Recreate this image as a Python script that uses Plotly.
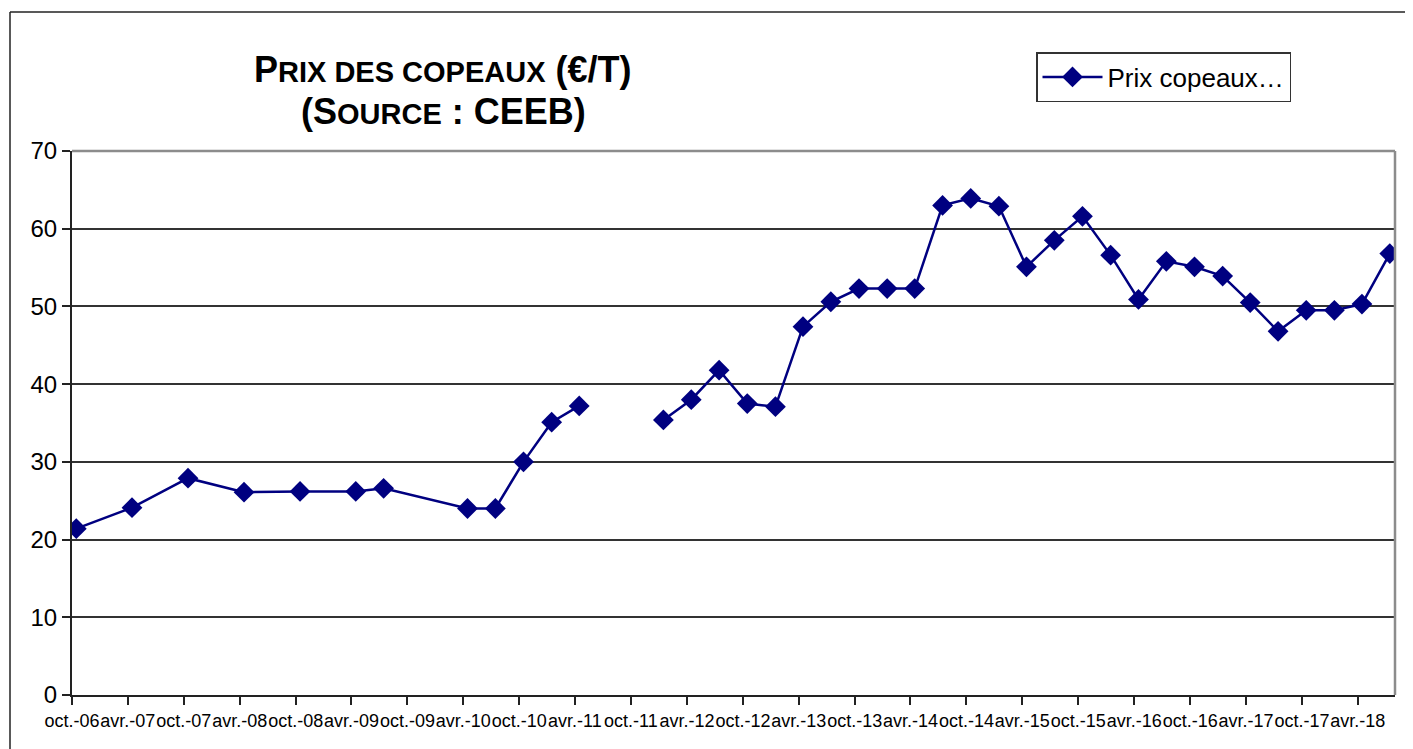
import plotly.graph_objects as go

# Data
dates = [
    "2006-10-15", "2007-04-15", "2007-10-15", "2008-04-15", "2008-10-15",
    "2009-04-15", "2009-07-15", "2010-04-15", "2010-07-15", "2010-10-15",
    "2011-01-15", "2011-04-15", "2011-07-15", "2011-10-15",
    "2012-01-15", "2012-04-15", "2012-07-15", "2012-10-15",
    "2013-01-15", "2013-04-15", "2013-07-15", "2013-10-15",
    "2014-01-15", "2014-04-15", "2014-07-15", "2014-10-15",
    "2015-01-15", "2015-04-15", "2015-07-15", "2015-10-15",
    "2016-01-15", "2016-04-15", "2016-07-15", "2016-10-15",
    "2017-01-15", "2017-04-15", "2017-07-15", "2017-10-15",
    "2018-01-15", "2018-04-15", "2018-07-15",
]
prix = [
    21.4, 24.1, 27.9, 26.1, 26.2,
    26.2, 26.6, 24.0, 24.0, 30.0,
    35.1, 37.2, None, None,
    35.4, 38.0, 41.8, 37.5,
    37.1, 47.4, 50.6, 52.3,
    52.3, 52.3, 63.0, 63.9,
    62.9, 55.1, 58.5, 61.6,
    56.6, 50.9, 55.8, 55.1,
    53.9, 50.5, 46.8, 49.5,
    49.5, 50.3, 56.8,
]

tick_dates = [
    "2006-10-01", "2007-04-01", "2007-10-01", "2008-04-01", "2008-10-01",
    "2009-04-01", "2009-10-01", "2010-04-01", "2010-10-01", "2011-04-01",
    "2011-10-01", "2012-04-01", "2012-10-01", "2013-04-01", "2013-10-01",
    "2014-04-01", "2014-10-01", "2015-04-01", "2015-10-01", "2016-04-01",
    "2016-10-01", "2017-04-01", "2017-10-01", "2018-04-01",
]
tick_labels = [
    "oct.-06", "avr.-07", "oct.-07", "avr.-08", "oct.-08",
    "avr.-09", "oct.-09", "avr.-10", "oct.-10", "avr.-11",
    "oct.-11", "avr.-12", "oct.-12", "avr.-13", "oct.-13",
    "avr.-14", "oct.-14", "avr.-15", "oct.-15", "avr.-16",
    "oct.-16", "avr.-17", "oct.-17", "avr.-18",
]

NAVY = "#000080"
FONT = "Liberation Sans, Arial, sans-serif"

fig = go.Figure()
fig.add_trace(go.Scatter(
    x=dates, y=prix, mode="lines+markers", name="Prix copeaux…",
    connectgaps=False,
    line=dict(color=NAVY, width=2.5),
    marker=dict(symbol="diamond", size=16, color=NAVY),
))

# page has an 8px body offset; work in screen pixels and convert
OFF = 8
SW, SH = 1413, 749
W, H = SW - OFF, SH - OFF
# screen-pixel plot area
L_s, R_s, T_s, B_s = 72, 1395, 151, 695
ml, mr, mt, mb = L_s - OFF, SW - R_s, T_s - OFF, SH - B_s
pw, ph = R_s - L_s, B_s - T_s

def px_x(p):
    return (p - L_s) / pw

def px_y(p):
    return (B_s - p) / ph

fig.update_layout(
    width=W, height=H,
    margin=dict(l=ml, r=mr, t=mt, b=mb),
    paper_bgcolor="white", plot_bgcolor="white",
    font=dict(family=FONT, color="black"),
    showlegend=True,
    legend=dict(
        x=px_x(1036), y=px_y(52), xanchor="left", yanchor="top",
        bordercolor="#333333", borderwidth=1.5, bgcolor="white",
        font=dict(size=26, family=FONT, color="black"),
        itemwidth=60,
    ),
    xaxis=dict(
        type="date",
        range=["2006-10-01", "2018-08-01"],
        tickmode="array", tickvals=tick_dates, ticktext=tick_labels,
        tickangle=0,
        tickfont=dict(size=18, family=FONT, color="black"),
        ticks="outside", ticklen=8, tickcolor="#222222", tickwidth=1.5,
        showgrid=False, zeroline=False,
        showline=True, linecolor="#222222", linewidth=2,
    ),
    yaxis=dict(
        range=[0, 70], dtick=10, tick0=0,
        tickfont=dict(size=24, family=FONT, color="black"),
        ticks="outside", ticklen=8, tickcolor="#222222", tickwidth=1.5,
        showgrid=True, gridcolor="#333333", gridwidth=1.5,
        zeroline=False,
        showline=True, linecolor="#222222", linewidth=2,
    ),
)

# plot area top/right border (gray)
fig.add_shape(type="line", xref="paper", yref="paper", x0=0, x1=1, y0=1, y1=1,
              line=dict(color="#8c8c8c", width=2.5))
fig.add_shape(type="line", xref="paper", yref="paper", x0=1, x1=1, y0=0, y1=1,
              line=dict(color="#8c8c8c", width=2.5))
# outer chart border (top and left edges only are visible)
fig.add_shape(type="line", xref="paper", yref="paper",
              x0=px_x(10), x1=px_x(SW + 40), y0=px_y(12), y1=px_y(12),
              line=dict(color="#222222", width=1.5), layer="below")
fig.add_shape(type="line", xref="paper", yref="paper",
              x0=px_x(10), x1=px_x(10), y0=px_y(12), y1=px_y(SH + 40),
              line=dict(color="#222222", width=1.5), layer="below")

big, small = 36, 29
title1 = ("<b>P<span style='font-size:%dpx'>RIX DES COPEAUX</span> (€/T)</b>" % small)
title2 = ("<b>(S<span style='font-size:%dpx'>OURCE</span> : CEEB)</b>" % small)
fig.add_annotation(text=title1, xref="paper", yref="paper", x=px_x(443), y=px_y(70),
                   xanchor="center", yanchor="middle", showarrow=False,
                   font=dict(size=big, family=FONT, color="black"))
fig.add_annotation(text=title2, xref="paper", yref="paper", x=px_x(443), y=px_y(112),
                   xanchor="center", yanchor="middle", showarrow=False,
                   font=dict(size=big, family=FONT, color="black"))

fig.write_html("out.html")
